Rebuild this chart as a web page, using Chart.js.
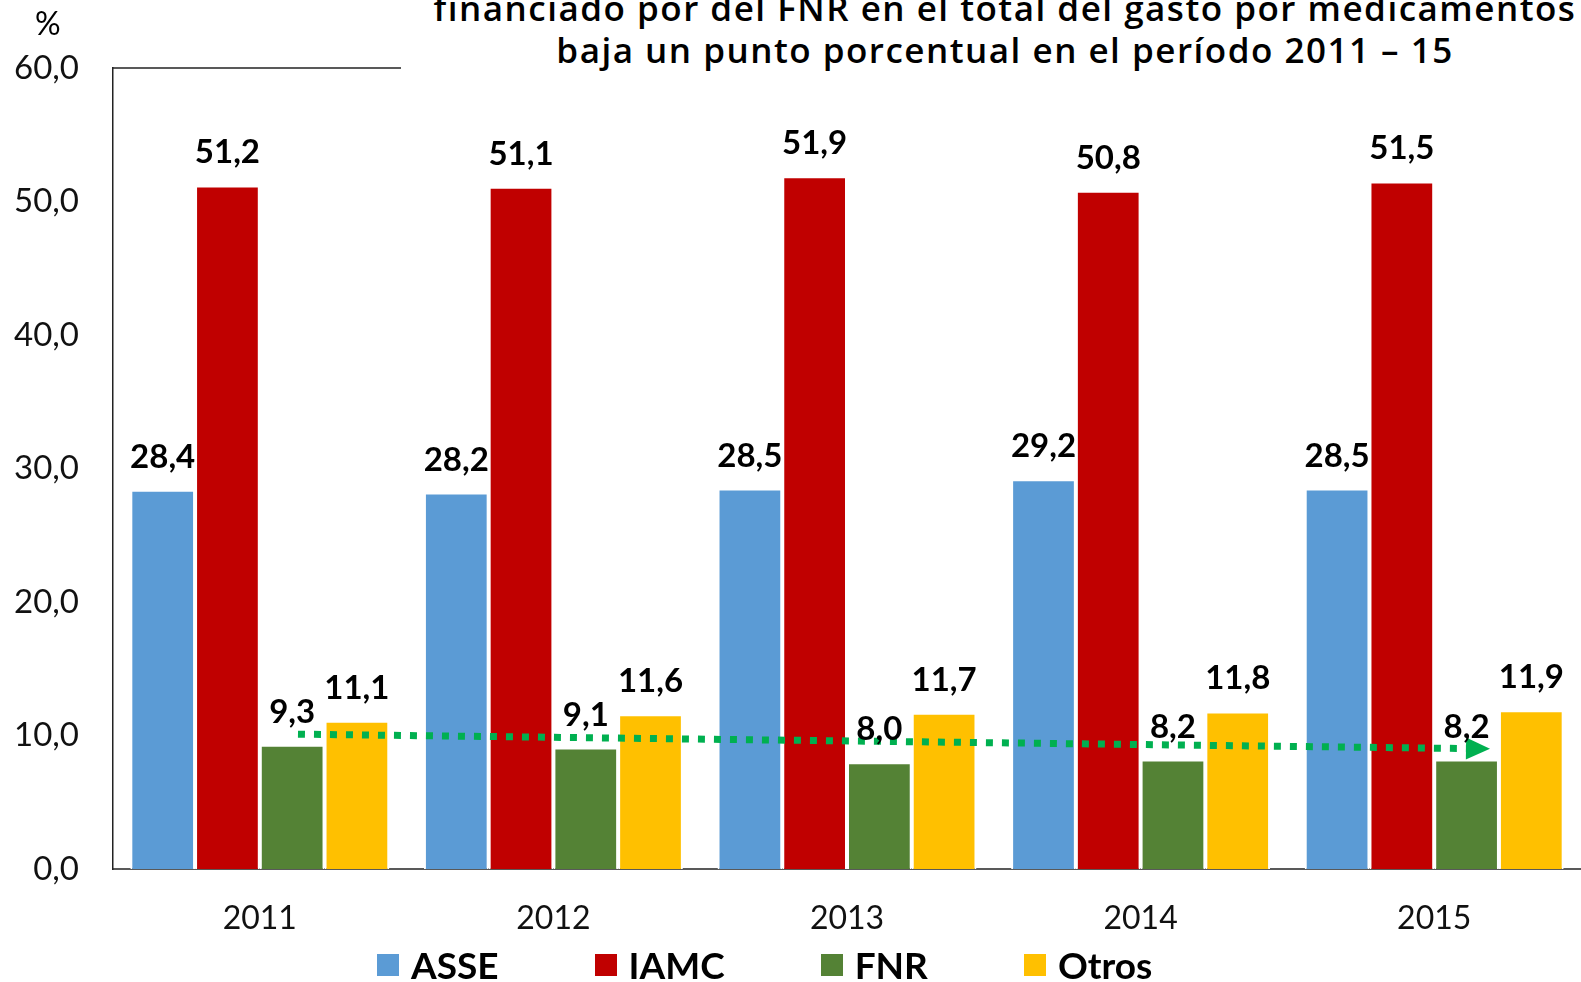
<!DOCTYPE html>
<html>
<head>
<meta charset="utf-8">
<script src="https://cdn.jsdelivr.net/npm/chart.js@4.4.1/dist/chart.umd.min.js"></script>
<style>
    body { margin: 0; background: #fff; }
    #wrap { position: relative; width: 1581px; height: 982px; overflow: hidden; }
    #titleBox {
        position: absolute; left: 401px; top: 0; right: 0; height: 72px;
        background: #fff; overflow: hidden;
    }
    #titleText {
        position: absolute; left: 604px; top: -13px; transform: translateX(-50%);
        white-space: nowrap; text-align: center;
        font: 600 35px "Open Sans", sans-serif; letter-spacing: 1.5px;
        line-height: 42px; color: #000;
    }
    #unit { position: absolute; left: 35px; top: 3px; font: 32px Lato, sans-serif; color: #000; }
    #legend {
        position: absolute; left: 377px; top: 942px; display: flex; gap: 96px;
        font: bold 37px Lato, sans-serif; color: #000;
    }
    #legend .item { display: flex; align-items: center; }
    #legend .box { width: 22px; height: 22px; margin-right: 12px; }
</style>
</head>
<body>
<div id="wrap">
    <canvas id="chart" width="1581" height="982"></canvas>
    <div id="titleBox"><div id="titleText">financiado por del FNR en el total del gasto por medicamentos<br>baja un punto porcentual en el período 2011 – 15</div></div>
    <div id="unit">%</div>
    <div id="legend"></div>
</div>
<script>
// Data
const years = ['2011', '2012', '2013', '2014', '2015'];
const asse = [28.4, 28.2, 28.5, 29.2, 28.5];
const iamc = [51.2, 51.1, 51.9, 50.8, 51.5];
const fnr = [9.3, 9.1, 8.0, 8.2, 8.2];
const otros = [11.1, 11.6, 11.7, 11.8, 11.9];
const yMin = 0, yMax = 60, yStep = 10;
// FNR trend arrow, in category index / value units
const arrowFrom = [0.13, 10.1];
const arrowTo = [4.19, 9.0];

const fmt = v => v.toFixed(1).replace('.', ',');

// Value labels above each bar
const barLabels = {
    id: 'barLabels',
    afterDatasetsDraw(chart) {
        const ctx = chart.ctx;
        ctx.save();
        ctx.font = 'bold 33px Lato, sans-serif';
        ctx.fillStyle = '#000';
        ctx.textAlign = 'center';
        ctx.textBaseline = 'alphabetic';
        chart.data.datasets.forEach((ds, i) => {
            chart.getDatasetMeta(i).data.forEach((bar, j) => {
                ctx.fillText(fmt(ds.data[j]), bar.x, bar.y - 22);
            });
        });
        ctx.restore();
    }
};

// Top frame line and dotted trend arrow
const extras = {
    id: 'extras',
    beforeDatasetsDraw(chart) {
        const {ctx, chartArea} = chart;
        ctx.save();
        ctx.strokeStyle = '#222';
        ctx.lineWidth = 1.5;
        ctx.beginPath();
        ctx.moveTo(chartArea.left, chartArea.top);
        ctx.lineTo(chartArea.right, chartArea.top);
        ctx.stroke();
        ctx.restore();
    },
    afterDatasetsDraw(chart) {
        const {ctx, scales: {x, y}} = chart;
        const x1 = x.getPixelForValue(arrowFrom[0]), y1 = y.getPixelForValue(arrowFrom[1]);
        const x2 = x.getPixelForValue(arrowTo[0]), y2 = y.getPixelForValue(arrowTo[1]);
        const ang = Math.atan2(y2 - y1, x2 - x1);
        const headLen = 24, headHalf = 11;
        const bx = x2 - headLen * Math.cos(ang), by = y2 - headLen * Math.sin(ang);
        ctx.save();
        ctx.strokeStyle = '#00B050';
        ctx.fillStyle = '#00B050';
        ctx.lineWidth = 7;
        ctx.setLineDash([7, 9]);
        ctx.beginPath();
        ctx.moveTo(x1, y1);
        ctx.lineTo(bx, by);
        ctx.stroke();
        ctx.setLineDash([]);
        ctx.beginPath();
        ctx.moveTo(x2, y2);
        ctx.lineTo(bx - headHalf * Math.sin(ang), by + headHalf * Math.cos(ang));
        ctx.lineTo(bx + headHalf * Math.sin(ang), by - headHalf * Math.cos(ang));
        ctx.closePath();
        ctx.fill();
        ctx.restore();
    }
};

const series = [
    {label: 'ASSE', data: asse, color: '#5B9BD5'},
    {label: 'IAMC', data: iamc, color: '#C00000'},
    {label: 'FNR', data: fnr, color: '#548235'},
    {label: 'Otros', data: otros, color: '#FFC000'}
];

const chart = new Chart(document.getElementById('chart'), {
    type: 'bar',
    data: {
        labels: years,
        datasets: series.map(s => ({
            label: s.label,
            data: s.data,
            backgroundColor: s.color,
            borderColor: '#fff',
            borderWidth: 2,
            categoryPercentage: 0.882,
            barPercentage: 1
        }))
    },
    options: {
        responsive: false,
        animation: false,
        layout: { padding: { top: 68, right: 0, left: 0, bottom: 0 } },
        plugins: {
            legend: { display: false },
            tooltip: { enabled: false }
        },
        scales: {
            x: {
                grid: { display: false, drawTicks: false },
                border: { color: '#595959', width: 2 },
                ticks: { font: { family: 'Lato', size: 32 }, color: '#111', padding: 30 },
                afterFit(scale) { scale.height = 113; }
            },
            y: {
                min: yMin,
                max: yMax,
                grid: { display: false, drawTicks: false },
                border: { color: '#222', width: 1.5 },
                ticks: {
                    stepSize: yStep,
                    font: { family: 'Lato', size: 33 },
                    color: '#111',
                    padding: 34,
                    callback: v => fmt(v)
                },
                afterFit(scale) { scale.width = 113; }
            }
        }
    },
    plugins: [extras, barLabels]
});

// HTML legend built from the datasets
const legendEl = document.getElementById('legend');
chart.data.datasets.forEach(ds => {
    const item = document.createElement('div');
    item.className = 'item';
    item.innerHTML = '<span class="box" style="background:' + ds.backgroundColor + '"></span>' + ds.label;
    legendEl.appendChild(item);
});
</script>
</body>
</html>
